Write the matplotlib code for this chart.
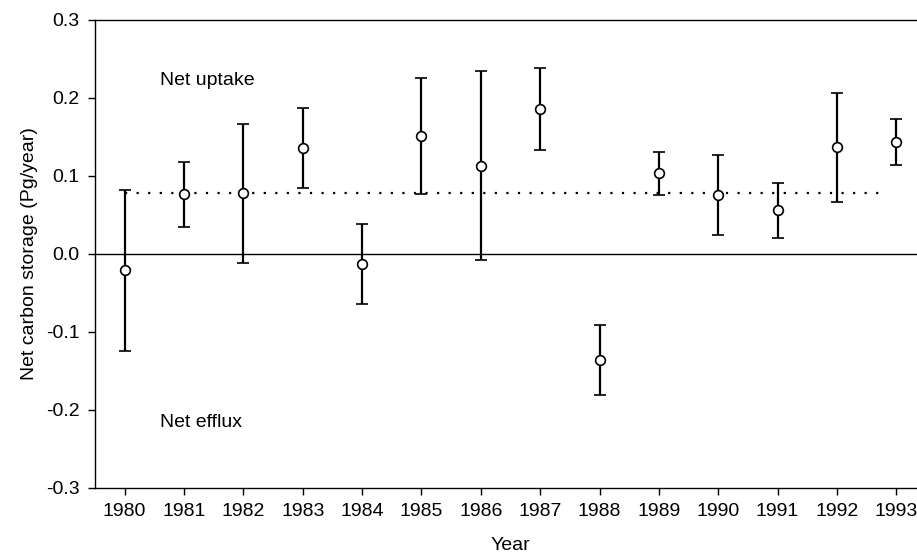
import matplotlib.pyplot as plt

plt.rcParams['font.family'] = ['Liberation Sans', 'DejaVu Sans']

years = [1980, 1981, 1982, 1983, 1984, 1985, 1986, 1987, 1988, 1989, 1990, 1991, 1992, 1993]
storage = [-0.021, 0.077, 0.078, 0.136, -0.013, 0.151, 0.113, 0.186, -0.136, 0.104, 0.076, 0.057, 0.137, 0.143]
upper = [0.082, 0.118, 0.167, 0.187, 0.038, 0.226, 0.235, 0.239, -0.091, 0.131, 0.127, 0.091, 0.207, 0.173]
lower = [-0.124, 0.034, -0.012, 0.084, -0.064, 0.077, -0.008, 0.133, -0.181, 0.076, 0.024, 0.021, 0.067, 0.114]
mean_storage = 0.078

err_low = [s - l for s, l in zip(storage, lower)]
err_high = [u - s for s, u in zip(storage, upper)]

fig = plt.figure(figsize=(9.17, 5.56), dpi=100)
ax = fig.add_axes([95 / 917, 68 / 556, 831 / 917, 468 / 556])

ax.axhline(0, color="black", lw=1)
# mean line, dotted
ax.hlines(mean_storage, 1980, 1992.85, colors="black", linestyles=(0, (1, 4.2)), lw=1.6)

ax.errorbar(years, storage, yerr=[err_low, err_high], fmt="o", color="black",
            mfc="white", mec="black", ms=7, mew=1.2, elinewidth=1.6,
            capsize=4, capthick=1.6, zorder=3)

ax.text(1980.6, 0.222, "Net uptake", fontsize=14, va="center")
ax.text(1980.6, -0.216, "Net efflux", fontsize=14, va="center")

ax.set_xlim(1979.5, 1993.5)
ax.set_ylim(-0.3, 0.3)
ax.set_xticks(years)
ax.set_yticks([-0.3, -0.2, -0.1, 0.0, 0.1, 0.2, 0.3])
ax.set_yticklabels(["-0.3", "-0.2", "-0.1", "0.0", "0.1", "0.2", "0.3"])
ax.tick_params(direction="out", length=5, width=1, labelsize=14, pad=6)

ax.set_xlabel("Year", fontsize=14, labelpad=12)
ax.set_ylabel("Net carbon storage (Pg/year)", fontsize=14, labelpad=6)

for side in ["left", "bottom", "top", "right"]:
    ax.spines[side].set_linewidth(1)

fig.savefig("out.png", dpi=100)
